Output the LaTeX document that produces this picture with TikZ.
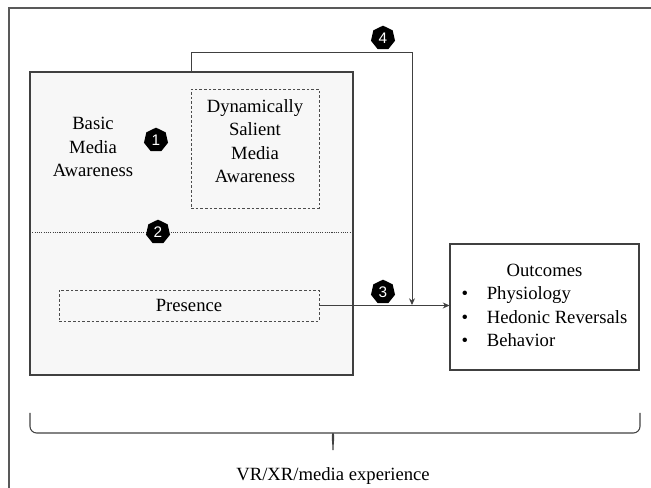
\documentclass[tikz,border=0pt]{standalone}
\usepackage{fontspec}
\setmainfont{Liberation Serif}
\setsansfont{Liberation Sans}
\usetikzlibrary{shapes.geometric,arrows.meta}
\tikzset{
  badge/.style={regular polygon,regular polygon sides=7,fill=black,text=white,inner sep=0pt,minimum size=18.5pt,font=\sffamily\fontsize{11.5}{11.5}\selectfont},
  dashbox/.style={draw=black!70,dash pattern=on 2pt off 1.5pt,line width=0.6pt,inner sep=0pt},
  plainbox/.style={draw=black!75,line width=0.8pt,inner sep=0pt},
  conn/.style={draw=black!75,line width=0.7pt,-{Stealth[length=5pt,width=4.5pt]}},
}
\begin{document}
\begin{tikzpicture}[x=0.75pt,y=-0.75pt,font=\fontsize{14}{17.5}\selectfont]
  \useasboundingbox (0,0) rectangle (651,488);
  % outer frame
  \draw[black!65,line width=0.8pt](9,488)--(9,8)--(651,8);
  % media experience box
  \node[plainbox,fill=black!3,minimum width=242.25pt,minimum height=227.25pt] (media) at (191.5,223.5) {};
  \node (basic) at (93,147) [align=center] {Basic\\Media\\Awareness};
  \node[dashbox,minimum width=96pt,minimum height=89.25pt] (dsma) at (255,148.5) {};
  \node (dsmatext) at (255,141) [align=center] {Dynamically\\Salient\\Media\\Awareness};
  \coordinate (divl) at (30,232);
  \coordinate (divr) at (353,232);
  \draw[black!75,line width=0.6pt,dash pattern=on 0.8pt off 0.9pt](divl)--(divr);
  \node[dashbox,minimum width=195pt,minimum height=23.25pt] (presence) at (189,305.5) {Presence};
  % outcomes
  \node[plainbox,fill=white,minimum width=141.75pt,minimum height=94.5pt] (outcomes) at (544.5,307) {%
    \begin{tabular}{@{}l@{\hspace{14pt}}l@{}}
      \multicolumn{2}{c}{Outcomes}\\
      \textbullet & Physiology\\
      \textbullet & Hedonic Reversals\\
      \textbullet & Behavior
    \end{tabular}};
  % connectors
  \coordinate (join) at (412,305);
  \draw[conn](media.north)--++(0,-19)-|(join);
  \draw[conn](presence.east)--(presence.east -| outcomes.west);
  % numbered badges
  \node[badge] (b1) at (156,140) {1};
  \node[badge] (b2) at (158,232) {2};
  \node[badge] (b3) at (383,292) {3};
  \node[badge] (b4) at (383,38) {4};
  % brace
  \draw[black!75,line width=0.8pt,rounded corners=5pt](30,413)--(30,433)--(326,433) to[out=0,in=90] (333,454) to[out=90,in=180] (340,433)--(640,433)--(640,413);
  \node (exp) at (333,476) {VR/XR/media experience};
\end{tikzpicture}
\end{document}
